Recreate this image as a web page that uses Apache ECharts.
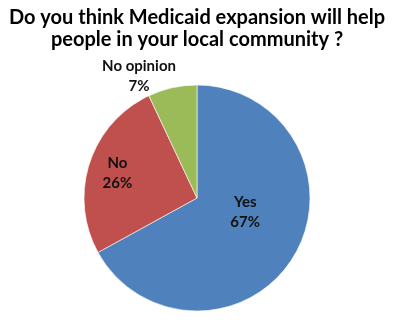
<!DOCTYPE html>
<html><head><meta charset="utf-8">
<script src="https://cdn.jsdelivr.net/npm/echarts@6/dist/echarts.min.js"></script>
<style>html,body{margin:0;padding:0;background:#fff}#c{width:394px;height:322px}</style>
</head><body><div id="c"></div>
<script>
var categories = ['Yes', 'No', 'No opinion'];
var values = [67, 26, 7];
var colors = ['#4F81BD', '#C0504D', '#9BBB59'];
var labelShifts = [[-3, -16], [-23, -6], [-45, -64]];
var titleLines = ['Do you think Medicaid expansion will help', 'people in your local community ?'];

var chart = echarts.init(document.getElementById('c'));
chart.setOption({
  animation: false,
  title: {
    text: titleLines.join('\n'),
    left: 'center', top: 2,
    textStyle: { fontFamily: 'Lato', fontWeight: 'bold', fontSize: 20, lineHeight: 22, color: '#000' }
  },
  series: [{
    type: 'pie',
    center: [197, 198],
    radius: 113,
    startAngle: 90,
    clockwise: true,
    data: categories.map(function (c, i) {
      return { name: c, value: values[i], itemStyle: { color: colors[i] } };
    }),
    itemStyle: { borderColor: '#fff', borderWidth: 0.6 },
    label: {
      show: true, position: 'inside',
      formatter: function (p) { return p.name + '\n' + p.value + '%'; },
      fontFamily: 'Lato', fontWeight: 'bold', fontSize: 15, lineHeight: 20, color: '#111'
    },
    labelLine: { show: false },
    labelLayout: function (p) {
      var s = labelShifts[p.dataIndex];
      return { dx: s[0], dy: s[1] };
    }
  }]
});
</script></body></html>
